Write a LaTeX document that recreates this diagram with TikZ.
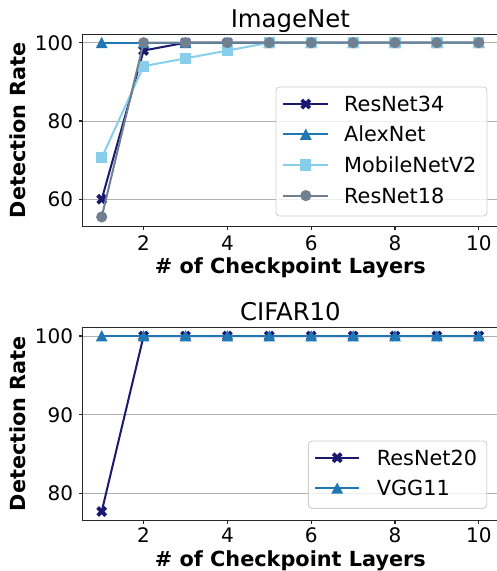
\documentclass[tikz,border=0pt]{standalone}
\usepackage{fontspec}
\setmainfont{DejaVu Sans}
\definecolor{c34}{HTML}{191970}
\definecolor{calex}{HTML}{1F77B4}
\definecolor{cmob}{HTML}{87CEEB}
\definecolor{c18}{HTML}{708090}
\definecolor{gridc}{HTML}{B0B0B0}
\definecolor{legc}{HTML}{D0D0D0}
\tikzset{
  gridln/.style={draw=gridc, line width=1pt},
  spine/.style={draw=black!85, line width=1.1pt},
  ticklab/.style={font=\fontsize{20}{24}\selectfont, inner sep=0pt},
  axlab/.style={font=\fontsize{20.8}{25}\selectfont\bfseries, inner sep=0pt, anchor=base},
  ttl/.style={font=\fontsize{24.4}{29}\selectfont, inner sep=0pt, anchor=base},
  leglab/.style={font=\fontsize{20.8}{25}\selectfont, inner sep=0pt, anchor=base west},
  legbox/.style={draw=legc, fill=white, fill opacity=0.8, rounded corners=3.5pt, line width=0.9pt},
  serie/.style={line width=2pt, line join=round},
  pics/mX/.style={code={\fill[#1] (-2.7pt,-5.4pt) -- (0pt,-2.7pt) -- (2.7pt,-5.4pt) -- (5.4pt,-2.7pt) -- (2.7pt,0pt) -- (5.4pt,2.7pt) -- (2.7pt,5.4pt) -- (0pt,2.7pt) -- (-2.7pt,5.4pt) -- (-5.4pt,2.7pt) -- (-2.7pt,0pt) -- (-5.4pt,-2.7pt) -- cycle;}},
  pics/mT/.style={code={\fill[#1] (0pt,5.8pt) -- (-5.9pt,-5.4pt) -- (5.9pt,-5.4pt) -- cycle;}},
  pics/mS/.style={code={\fill[#1] (-5.6pt,-5.6pt) rectangle (5.6pt,5.6pt);}},
  pics/mO/.style={code={\fill[#1] (0pt,0pt) circle[radius=5.6pt];}},
}
\begin{document}
\begin{tikzpicture}[x=1pt,y=1pt]
\useasboundingbox (0,0) rectangle (496,-571);
% ================= TOP: ImageNet =================
\begin{scope}[shift={(59.8pt,-434.2pt)}, x=41.9pt, y=3.915pt]
  \foreach \v in {60,80,100} \draw[gridln] (0.55,\v) -- (10.45,\v);
  % ResNet34
  \draw[serie, c34] plot coordinates {(1,60) (2,98) (3,100) (4,100) (5,100) (6,100) (7,100) (8,100) (9,100) (10,100)};
  \foreach \d/\v in {1/60,2/98,3/100,4/100,5/100,6/100,7/100,8/100,9/100,10/100} \pic at (\d,\v) {mX=c34};
  % AlexNet
  \draw[serie, calex] plot coordinates {(1,100) (2,100) (3,100) (4,100) (5,100) (6,100) (7,100) (8,100) (9,100) (10,100)};
  \foreach \d in {1,...,10} \pic at (\d,100) {mT=calex};
  % MobileNetV2
  \draw[serie, cmob] plot coordinates {(1,70.6) (2,94) (3,96) (4,98) (5,100) (6,100) (7,100) (8,100) (9,100) (10,100)};
  \foreach \d/\v in {1/70.6,2/94,3/96,4/98,5/100,6/100,7/100,8/100,9/100,10/100} \pic at (\d,\v) {mS=cmob};
  % ResNet18
  \draw[serie, c18] plot coordinates {(1,55.5) (2,100) (3,100) (4,100) (5,100) (6,100) (7,100) (8,100) (9,100) (10,100)};
  \foreach \d/\v in {1/55.5,2/100,3/100,4/100,5/100,6/100,7/100,8/100,9/100,10/100} \pic at (\d,\v) {mO=c18};
  % frame and ticks
  \draw[spine] (0.55,53) rectangle (10.45,102.2);
  \foreach \d in {2,4,6,8,10} \draw[spine] (\d,53) -- ++(0,-3.5pt);
  \foreach \v in {60,80,100} \draw[spine] (0.55,\v) -- ++(-3.5pt,0);
\end{scope}
\node[ttl] (t1) at (290.4,-27.7) {ImageNet};
\foreach \d in {2,4,6,8,10} \node[ticklab, anchor=base] (t1x\d) at ({59.8+41.9*\d},-250) {\d};
\node[ticklab, anchor=base east] (t1y100) at (73.3,-50.1) {100};
\node[ticklab, anchor=base east] (t1y80) at (73.3,-128.4) {80};
\node[ticklab, anchor=base east] (t1y60) at (73.3,-206.7) {60};
\node[axlab] (t1xl) at (290.4,-273.3) {\# of Checkpoint Layers};
\node[axlab, rotate=90] (t1yl) at (25,-130.5) {Detection Rate};
% legend top
\draw[legbox] (276,-87) rectangle (487,-216);
\draw[serie, c34] (283.3,-104) -- (328.3,-104);   \pic at (305.8,-104) {mX=c34};
\draw[serie, calex] (283.3,-134.4) -- (328.3,-134.4); \pic at (305.8,-134.4) {mT=calex};
\draw[serie, cmob] (283.3,-165) -- (328.3,-165);  \pic at (305.8,-165) {mS=cmob};
\draw[serie, c18] (283.3,-195.6) -- (328.3,-195.6); \pic at (305.8,-195.6) {mO=c18};
\node[leglab] (l34) at (344,-111.3) {ResNet34};
\node[leglab] (lalex) at (344,-141.8) {AlexNet};
\node[leglab] (lmob) at (344,-172.5) {MobileNetV2};
\node[leglab] (l18) at (344,-203.1) {ResNet18};
% ================= BOTTOM: CIFAR10 =================
\begin{scope}[shift={(59.8pt,-1123pt)}, x=41.9pt, y=7.87pt]
  \foreach \v in {80,90,100} \draw[gridln] (0.55,\v) -- (10.45,\v);
  % ResNet20
  \draw[serie, c34] plot coordinates {(1,77.7) (2,100) (3,100) (4,100) (5,100) (6,100) (7,100) (8,100) (9,100) (10,100)};
  \foreach \d/\v in {1/77.7,2/100,3/100,4/100,5/100,6/100,7/100,8/100,9/100,10/100} \pic at (\d,\v) {mX=c34};
  % VGG11
  \draw[serie, calex] plot coordinates {(1,100) (2,100) (3,100) (4,100) (5,100) (6,100) (7,100) (8,100) (9,100) (10,100)};
  \foreach \d in {1,...,10} \pic at (\d,100) {mT=calex};
  % frame and ticks
  \draw[spine] (0.55,76.6) rectangle (10.45,101.1);
  \foreach \d in {2,4,6,8,10} \draw[spine] (\d,76.6) -- ++(0,-3.5pt);
  \foreach \v in {80,90,100} \draw[spine] (0.55,\v) -- ++(-3.5pt,0);
\end{scope}
\node[ttl] (t2) at (290.4,-320) {CIFAR10};
\foreach \d in {2,4,6,8,10} \node[ticklab, anchor=base] (t2x\d) at ({59.8+41.9*\d},-542.7) {\d};
\node[ticklab, anchor=base east] (t2y100) at (73.3,-343.4) {100};
\node[ticklab, anchor=base east] (t2y90) at (73.3,-422.1) {90};
\node[ticklab, anchor=base east] (t2y80) at (73.3,-500.8) {80};
\node[axlab] (t2xl) at (290.4,-566) {\# of Checkpoint Layers};
\node[axlab, rotate=90] (t2yl) at (25,-423.6) {Detection Rate};
% legend bottom
\draw[legbox] (308.3,-441) rectangle (486.7,-508.3);
\draw[serie, c34] (315,-457.7) -- (359.3,-457.7);   \pic at (337.2,-457.7) {mX=c34};
\draw[serie, calex] (315,-488.3) -- (359.3,-488.3); \pic at (337.2,-488.3) {mT=calex};
\node[leglab] (l20) at (376.7,-465) {ResNet20};
\node[leglab] (lvgg) at (376.7,-495.8) {VGG11};
\end{tikzpicture}
\end{document}
